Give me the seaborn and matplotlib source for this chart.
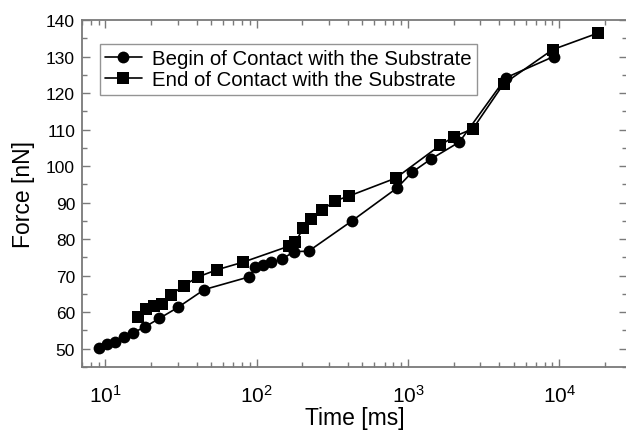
import matplotlib
matplotlib.use("Agg")
import matplotlib.pyplot as plt
from matplotlib.ticker import LogLocator, MultipleLocator
import pandas as pd
import seaborn as sns

# Begin of contact with the substrate
begin_time = [9.0, 10.2, 11.5, 13.2, 15.1, 18.3, 22.7, 30.1, 45, 89.5, 98, 110,
              125, 146, 177, 220, 426, 845, 1062, 1412, 2186, 4436, 9180]
begin_force = [50.1, 51.4, 51.9, 53.2, 54.3, 56.0, 58.3, 61.3, 66.2, 69.7, 72.4,
               72.9, 73.7, 74.5, 76.6, 76.7, 85.0, 94.0, 98.3, 101.9, 106.6,
               124.2, 130.0]

# End of contact with the substrate
end_time = [16.4, 18.5, 20.9, 23.7, 27.3, 32.9, 41.1, 54.4, 81.2, 163.7, 180,
            203, 230, 271, 330, 407, 828, 1630, 2018, 2682, 4275, 9040, 17950]
end_force = [58.8, 61.0, 61.6, 62.3, 64.8, 67.3, 69.7, 71.6, 73.7, 78.1, 79.1,
             83.1, 85.4, 88.0, 90.5, 91.8, 96.7, 105.7, 108.1, 110.2, 122.5,
             131.9, 136.4]

labels = ["Begin of Contact with the Substrate", "End of Contact with the Substrate"]

sns.set_style("ticks")
plt.rcParams["font.family"] = ["Liberation Sans", "DejaVu Sans"]
plt.rcParams["mathtext.fontset"] = "custom"
plt.rcParams["mathtext.rm"] = "Liberation Sans"
plt.rcParams["mathtext.it"] = "Liberation Sans"
plt.rcParams["text.color"] = "black"
plt.rcParams["axes.labelcolor"] = "black"

fig = plt.figure(figsize=(6.26, 4.31), dpi=100)
ax = fig.add_axes([82 / 626, 1 - 368 / 431, 545 / 626, 347 / 431])

df_begin = pd.DataFrame({"time": begin_time, "force": begin_force})
df_end = pd.DataFrame({"time": end_time, "force": end_force})

sns.lineplot(data=df_begin, x="time", y="force", ax=ax, color="black",
             marker="o", markersize=8.5, linewidth=1.2, label=labels[0],
             markeredgewidth=0, sort=False)
sns.lineplot(data=df_end, x="time", y="force", ax=ax, color="black",
             marker="s", markersize=8, linewidth=1.2, label=labels[1],
             markeredgewidth=0, sort=False)

ax.set_xscale("log")
ax.set_xlim(7, 28000)
ax.set_ylim(45, 140)
ax.yaxis.set_major_locator(MultipleLocator(10))
ax.yaxis.set_minor_locator(MultipleLocator(5))
ax.xaxis.set_major_locator(LogLocator(base=10, numticks=10))
ax.xaxis.set_minor_locator(LogLocator(base=10, subs=range(2, 10), numticks=20))

grey = "#7a7a7a"
for side in ["left", "right", "top", "bottom"]:
    ax.spines[side].set_visible(True)
    ax.spines[side].set_color(grey)
    ax.spines[side].set_linewidth(1.3)

ax.tick_params(which="both", direction="in", top=True, right=True, color=grey,
               width=1.0, labelsize=12.5, labelcolor="black")
ax.tick_params(which="major", length=6)
ax.tick_params(which="minor", length=3.5)
ax.tick_params(axis="y", which="major", pad=5)
ax.tick_params(axis="x", which="major", pad=12, labelsize=15)

ax.set_xlabel("Time [ms]", fontsize=16.5, labelpad=0)
ax.set_ylabel("Force [nN]", fontsize=16.5, labelpad=8)

leg = ax.legend(loc="upper left", bbox_to_anchor=(0.033, 0.93), fontsize=14.7,
                frameon=True, fancybox=False, edgecolor=grey, handlelength=1.8,
                handletextpad=0.5, borderpad=0.25, labelspacing=0.1,
                borderaxespad=0)
leg.get_frame().set_linewidth(1.0)

fig.savefig("out.png", dpi=100)
